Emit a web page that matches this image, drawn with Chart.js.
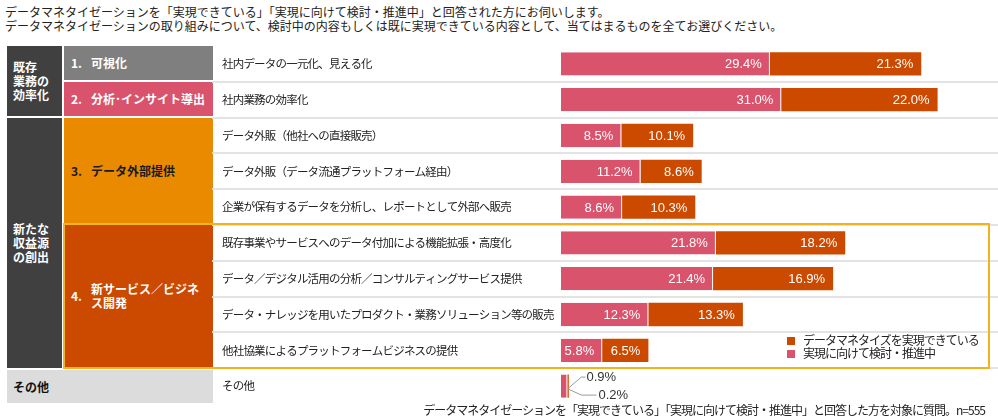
<!DOCTYPE html>
<html lang="ja">
<head>
<meta charset="utf-8">
<script src="https://cdn.jsdelivr.net/npm/chart.js@4"></script>
<style>
  body { margin: 0; background: #fff; font-family: "Noto Sans CJK JP", sans-serif; color: #222; }
  #page { position: relative; width: 998px; height: 420px; overflow: hidden; }
  .abs { position: absolute; }
  .title { left: 5px; top: 5px; font-size: 12px; line-height: 14px; white-space: nowrap; }
  .cell { position: absolute; display: flex; align-items: center; font-size: 12px; font-weight: bold; line-height: 14px; box-sizing: border-box; }
  .dark { background: #404040; color: #fff; padding-left: 6px; }
  .sub { padding-left: 7px; white-space: nowrap; }
  .sub .num { display: inline-block; width: 20px; vertical-align: top; }
  .sub .txt { display: inline-block; vertical-align: top; }
  #chartBox { position: absolute; left: 212px; top: 46px; width: 786px; height: 358px; }
  #frame { position: absolute; left: 63px; top: 223px; width: 927px; height: 146px; border: 2px solid #f2b31e; box-sizing: border-box; pointer-events: none; }
  #legend { position: absolute; left: 787px; top: 333px; font-size: 12px; line-height: 13px; white-space: nowrap; letter-spacing: -1px; }
  #legend .sw { display: inline-block; width: 8px; height: 8px; margin-right: 8px; }
  .note { right: 13px; top: 403px; font-size: 12px; line-height: 14px; white-space: nowrap; letter-spacing: -1px; }
</style>
</head>
<body>
<div id="page">
  <div class="abs title">データマネタイゼーションを「実現できている」「実現に向けて検討・推進中」と回答された方にお伺いします。<br>データマネタイゼーションの取り組みについて、検討中の内容もしくは既に実現できている内容として、当てはまるものを全てお選びください。</div>

  <div class="cell dark" style="left:7px;top:46px;width:55px;height:70px;">既存<br>業務の<br>効率化</div>
  <div class="cell dark" style="left:7px;top:118px;width:55px;height:250px;">新たな<br>収益源<br>の創出</div>
  <div class="cell" style="left:7px;top:370px;width:206px;height:33px;background:#dcdcdc;color:#111;padding-left:6px;">その他</div>

  <div class="cell sub" style="left:64px;top:46px;width:149px;height:34px;background:#7f7f7f;color:#fff;"><span class="num">1.</span><span class="txt">可視化</span></div>
  <div class="cell sub" style="left:64px;top:82px;width:149px;height:34px;background:#d9536d;color:#fff;"><span class="num">2.</span><span class="txt">分析･インサイト導出</span></div>
  <div class="cell sub" style="left:64px;top:118px;width:149px;height:106px;background:#ea8a00;color:#1a1a1a;"><span class="num">3.</span><span class="txt">データ外部提供</span></div>
  <div class="cell sub" style="left:64px;top:224px;width:149px;height:144px;background:#cc4a00;color:#fff;"><span class="num">4.</span><span class="txt">新サービス／ビジネ<br>ス開発</span></div>

  <div id="chartBox"><canvas id="chart"></canvas></div>
  <div id="frame"></div>
  <div id="legend"></div>

  <div class="abs note">データマネタイゼーションを「実現できている」「実現に向けて検討・推進中」と回答した方を対象に質問。n=555</div>
</div>
<script>
const categories = [
  "社内データの一元化、見える化",
  "社内業務の効率化",
  "データ外販（他社への直接販売）",
  "データ外販（データ流通プラットフォーム経由）",
  "企業が保有するデータを分析し、レポートとして外部へ販売",
  "既存事業やサービスへのデータ付加による機能拡張・高度化",
  "データ／デジタル活用の分析／コンサルティングサービス提供",
  "データ・ナレッジを用いたプロダクト・業務ソリューション等の販売",
  "他社協業によるプラットフォームビジネスの提供",
  "その他"
];
const seriesNames = ["実現に向けて検討・推進中", "データマネタイズを実現できている"];
const inProgress = [29.4, 31.0, 8.5, 11.2, 8.6, 21.8, 21.4, 12.3, 5.8, 0.9];
const achieved = [21.3, 22.0, 10.1, 8.6, 10.3, 18.2, 16.9, 13.3, 6.5, 0.2];
const colors = ["#d9536d", "#cc4a00"];

// legend: achieved first, like the original
const legend = document.getElementById("legend");
[1, 0].forEach((i) => {
  const row = document.createElement("div");
  row.innerHTML = `<span class="sw" style="background:${colors[i]}"></span>${seriesNames[i]}`;
  legend.appendChild(row);
});

// tighter letter spacing for the category labels (original font is narrower)
const tightText = {
  id: "tightText",
  beforeDraw(chart) { chart.ctx.letterSpacing = "-0.8px"; },
  beforeDatasetsDraw(chart) { chart.ctx.letterSpacing = "0px"; }
};

const barLabels = {
  id: "barLabels",
  afterDatasetsDraw(chart) {
    const ctx = chart.ctx;
    const last = categories.length - 1;
    ctx.save();
    ctx.letterSpacing = "0px";
    ctx.font = "13px 'Liberation Sans', Arial, sans-serif";
    ctx.textBaseline = "middle";
    chart.data.datasets.forEach((ds, di) => {
      chart.getDatasetMeta(di).data.forEach((bar, i) => {
        if (i === last) return;
        ctx.fillStyle = "#fff";
        ctx.textAlign = "right";
        ctx.fillText(ds.data[i].toFixed(1) + "%", bar.x - 8, bar.y + 1);
      });
    });
    // the tiny "other" bar gets leader lines
    const p = chart.getDatasetMeta(0).data[last];
    const x = p.x, y = p.y;
    ctx.strokeStyle = "#9a9a9a";
    ctx.lineWidth = 1;
    ctx.beginPath();
    ctx.moveTo(x + 1, y + 2);
    ctx.lineTo(x + 14, y - 9);
    ctx.lineTo(x + 18, y - 9);
    ctx.moveTo(x + 1, y + 3);
    ctx.lineTo(x + 14, y + 9);
    ctx.lineTo(x + 29, y + 9);
    ctx.stroke();
    ctx.fillStyle = "#333";
    ctx.textAlign = "left";
    ctx.fillText(inProgress[last].toFixed(1) + "%", x + 19, y - 9);
    ctx.fillText(achieved[last].toFixed(1) + "%", x + 31, y + 9);
    ctx.restore();
  }
};

const ctx = document.getElementById("chart").getContext("2d");
new Chart(ctx, {
  type: "bar",
  data: {
    labels: categories,
    datasets: [
      {
        label: seriesNames[0],
        data: inProgress,
        backgroundColor: colors[0],
        borderColor: "#fff",
        borderWidth: { right: 1 },
        borderSkipped: false
      },
      {
        label: seriesNames[1],
        data: achieved,
        backgroundColor: colors[1],
        borderWidth: 0
      }
    ]
  },
  options: {
    indexAxis: "y",
    responsive: true,
    maintainAspectRatio: false,
    animation: false,
    layout: { padding: { left: 10, right: 0, top: 0, bottom: 0 } },
    datasets: { bar: { barPercentage: 0.65, categoryPercentage: 1 } },
    plugins: { legend: { display: false }, tooltip: { enabled: false } },
    scales: {
      x: { stacked: true, display: false, min: 0, max: 61.5 },
      y: {
        stacked: true,
        border: { display: false },
        afterFit: (scale) => {
          scale.width = 339;
          scale.paddingTop = 0;
          scale.paddingBottom = 0;
        },
        grid: {
          offset: true,
          lineWidth: 2,
          tickLength: 349,
          color: (c) => (c.type === "tick" && c.index > 0 ? "#e3e3e3" : "rgba(0,0,0,0)")
        },
        ticks: {
          autoSkip: false,
          crossAlign: "far",
          padding: 0,
          color: "#222",
          font: { family: "'Noto Sans CJK JP', sans-serif", size: 11.5 }
        }
      }
    }
  },
  plugins: [tightText, barLabels]
});
</script>
</body>
</html>
